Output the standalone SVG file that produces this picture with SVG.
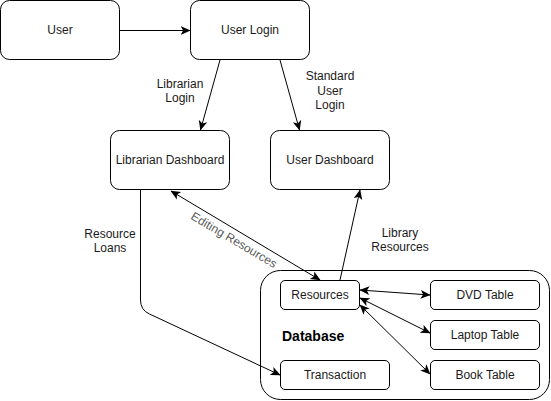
<svg xmlns="http://www.w3.org/2000/svg" width="551" height="401" viewBox="0 0 551 401">
  <style>
    .node { fill: #ffffff; stroke: #000000; stroke-width: 1; }
    .lbl { font-family: "Liberation Sans", Arial, Helvetica, sans-serif; font-size: 12px; fill: #1a1a1a; text-anchor: middle; }
    .edge { fill: none; stroke: #000000; stroke-width: 1; }
    .elbl { font-family: "Liberation Sans", Arial, Helvetica, sans-serif; font-size: 12px; fill: #1a1a1a; text-anchor: middle; }
  </style>
  <defs>
    <marker id="arr" markerUnits="userSpaceOnUse" markerWidth="10" markerHeight="10" viewBox="0 0 8 7" refX="7.5" refY="3.5" orient="auto-start-reverse">
      <path d="M0,0 L8,3.5 L0,7 L2,3.5 Z" fill="#000000"/>
    </marker>
  </defs>
  <rect width="551" height="401" fill="#ffffff"/>

  <g id="database">
    <rect class="node" x="260.5" y="270.5" width="289" height="129" rx="20" ry="20"/>
    <text x="282" y="341" font-family="'Liberation Sans', Arial, sans-serif" font-size="14px" font-weight="bold" fill="#000">Database</text>
  </g>
  <g id="user">
    <rect class="node" x="0.5" y="0.5" width="119" height="59" rx="9" ry="9"/>
    <text class="lbl" x="60" y="34">User</text>
  </g>
  <g id="user-login">
    <rect class="node" x="190.5" y="0.5" width="119" height="59" rx="9" ry="9"/>
    <text class="lbl" x="250" y="34">User Login</text>
  </g>
  <g id="librarian-dashboard">
    <rect class="node" x="110.5" y="130.5" width="119" height="59" rx="9" ry="9"/>
    <text class="lbl" x="170" y="164">Librarian Dashboard</text>
  </g>
  <g id="user-dashboard">
    <rect class="node" x="270.5" y="130.5" width="119" height="59" rx="9" ry="9"/>
    <text class="lbl" x="330" y="164">User Dashboard</text>
  </g>
  <g id="resources">
    <rect class="node" x="280.5" y="280.5" width="79" height="29" rx="4.5" ry="4.5"/>
    <text class="lbl" x="320" y="299">Resources</text>
  </g>
  <g id="dvd-table">
    <rect class="node" x="430.5" y="280.5" width="109" height="29" rx="4.5" ry="4.5"/>
    <text class="lbl" x="485" y="299">DVD Table</text>
  </g>
  <g id="laptop-table">
    <rect class="node" x="430.5" y="320.5" width="109" height="29" rx="4.5" ry="4.5"/>
    <text class="lbl" x="485" y="339">Laptop Table</text>
  </g>
  <g id="book-table">
    <rect class="node" x="430.5" y="360.5" width="109" height="29" rx="4.5" ry="4.5"/>
    <text class="lbl" x="485" y="379">Book Table</text>
  </g>
  <g id="transaction">
    <rect class="node" x="280.5" y="360.5" width="109" height="29" rx="4.5" ry="4.5"/>
    <text class="lbl" x="335" y="379">Transaction</text>
  </g>

  <g id="connectors">
    <line class="edge" x1="120" y1="30.5" x2="190" y2="30.5" marker-end="url(#arr)"/>
    <line class="edge" x1="220" y1="60" x2="200.5" y2="130" marker-end="url(#arr)"/>
    <line class="edge" x1="280" y1="60" x2="299.5" y2="130" marker-end="url(#arr)"/>
    <line class="edge" x1="171" y1="191" x2="320" y2="280" marker-start="url(#arr)" marker-end="url(#arr)"/>
    <line class="edge" x1="340" y1="280" x2="360" y2="190" marker-end="url(#arr)"/>
    <path class="edge" d="M140.5,190 L140.5,300 Q140.5,310 149.5,314 L280,375" marker-end="url(#arr)"/>
    <line class="edge" x1="360" y1="290" x2="430" y2="295" marker-start="url(#arr)" marker-end="url(#arr)"/>
    <line class="edge" x1="360" y1="298" x2="430" y2="333" marker-start="url(#arr)" marker-end="url(#arr)"/>
    <line class="edge" x1="360" y1="305" x2="430" y2="374" stroke="#333333" marker-start="url(#arr)" marker-end="url(#arr)"/>

    <text class="elbl" x="180" y="88">Librarian</text>
    <text class="elbl" x="180" y="102">Login</text>
    <text class="elbl" x="330" y="80">Standard</text>
    <text class="elbl" x="330" y="95">User</text>
    <text class="elbl" x="330" y="109">Login</text>
    <text class="elbl" x="110" y="238">Resource</text>
    <text class="elbl" x="110" y="252">Loans</text>
    <text class="elbl" x="400" y="237">Library</text>
    <text class="elbl" x="400" y="251">Resources</text>
    <text class="elbl" transform="translate(234,240) rotate(30.7)" x="0" y="4" style="fill:#5a5a5a">Editing Resources</text>
  </g>
</svg>
